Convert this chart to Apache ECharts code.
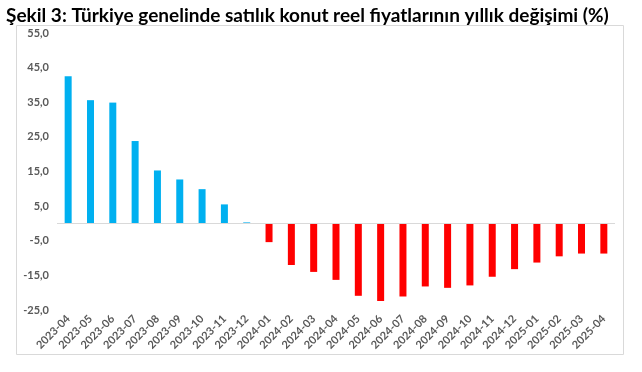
<!DOCTYPE html>
<html><head><meta charset="utf-8">
<script src="https://cdn.jsdelivr.net/npm/echarts@6/dist/echarts.min.js"></script>
<style>html,body{margin:0;padding:0;background:#fff}#c{width:642px;height:372px}</style>
</head><body><div id="c"></div>
<script>
const categories = ['2023-04','2023-05','2023-06','2023-07','2023-08','2023-09','2023-10','2023-11','2023-12',
  '2024-01','2024-02','2024-03','2024-04','2024-05','2024-06','2024-07','2024-08','2024-09','2024-10','2024-11','2024-12',
  '2025-01','2025-02','2025-03','2025-04'];
const values = [42.5, 35.6, 34.9, 23.8, 15.3, 12.7, 9.9, 5.5, 0.3,
  -5.4, -12.0, -14.0, -16.3, -20.9, -22.4, -21.1, -18.2, -18.6, -17.9, -15.4, -13.2,
  -11.3, -9.5, -8.7, -8.7];
const yMin = -25, yMax = 55, yStep = 10;
const titleText = 'Şekil 3: Türkiye genelinde satılık konut reel fiyatlarının yıllık değişimi (%)';

const chart = echarts.init(document.getElementById('c'));
chart.setOption({
  animation: false,
  title: { text: titleText, left: 1, top: 1,
    textStyle: { fontFamily: 'Lato', fontWeight: 'bold', fontSize: 19, color: '#000' } },
  graphic: [{ type: 'rect', shape: { x: 16.5, y: 25.5, width: 607, height: 329 },
    style: { fill: 'none', stroke: '#d9d9d9', lineWidth: 1 }, z: -1 }],
  grid: { left: 57, right: 27, top: 33, height: 277 },
  xAxis: { type: 'category', data: categories,
    axisLine: { show: false }, axisTick: { show: false },
    axisLabel: { rotate: 45, interval: 0, margin: 7, fontFamily: 'Lato', fontWeight: 'bold', fontSize: 11, color: '#595959' } },
  yAxis: { type: 'value', min: yMin, max: yMax, interval: yStep,
    splitLine: { show: false }, axisLine: { show: false }, axisTick: { show: false },
    axisLabel: { margin: 8, fontFamily: 'Lato', fontWeight: 'bold', fontSize: 11, color: '#595959',
      formatter: v => v.toFixed(1).replace('.', ',') } },
  series: [{ type: 'bar', barWidth: 7,
    data: values.map(v => ({ value: v, itemStyle: { color: v >= 0 ? '#00b0f0' : '#ff0000' } })),
    markLine: { silent: true, symbol: 'none', label: { show: false },
      lineStyle: { color: '#d9d9d9', type: 'solid', width: 1 }, data: [{ yAxis: 0 }] } }]
});
</script></body></html>
